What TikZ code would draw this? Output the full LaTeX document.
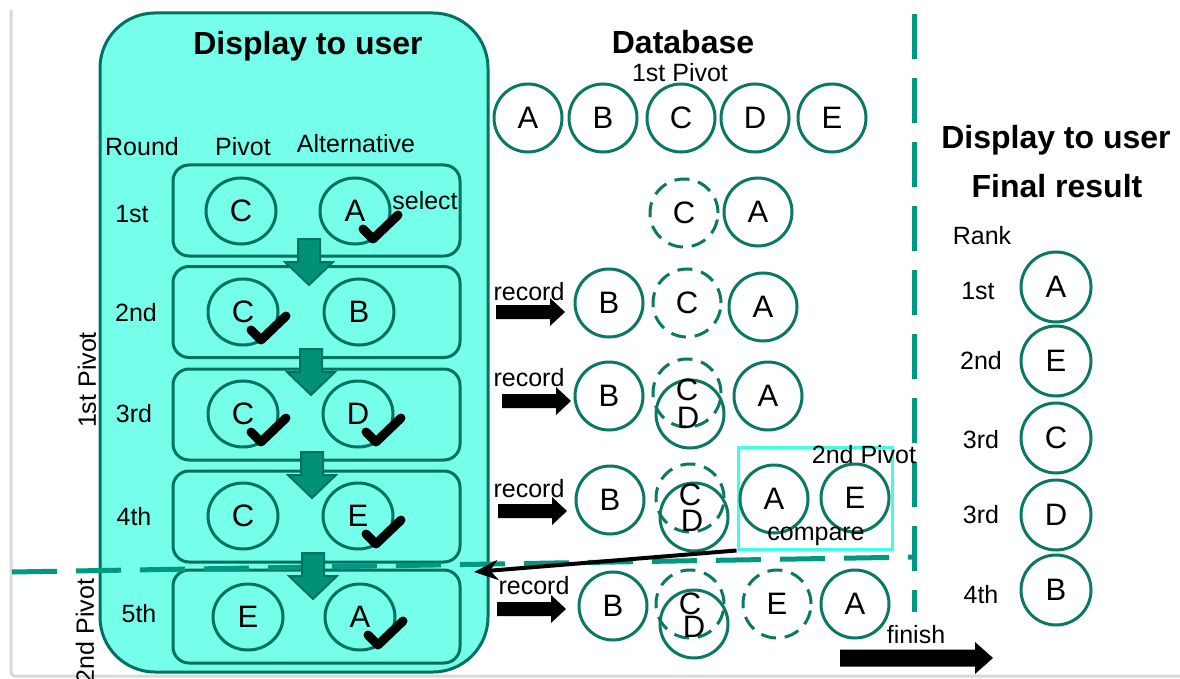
\documentclass[tikz,border=0pt]{standalone}
\usepackage{fontspec}
\setmainfont{Liberation Sans}
\usetikzlibrary{shapes.geometric,arrows.meta}

\definecolor{panelfill}{RGB}{117,255,234}
\definecolor{tealedge}{RGB}{0,112,96}
\definecolor{ringcol}{RGB}{10,120,100}
\definecolor{dashcol}{RGB}{0,152,128}
\definecolor{arrowfill}{RGB}{0,145,120}
\definecolor{boxcyan}{RGB}{64,255,224}
\definecolor{framegrey}{RGB}{217,217,217}

\newcommand{\fsreg}{\fontsize{25}{29}\selectfont}
\newcommand{\fsbig}{\fontsize{31}{35}\selectfont}
\newcommand{\fshead}{\fontsize{32}{37}\selectfont\bfseries}

\tikzset{
  item/.style={circle, draw=ringcol, line width=3pt, minimum size=68pt, inner sep=0pt, font=\fsbig},
  ghost/.style={item, dash pattern=on 15pt off 9pt},
  pitem/.style={ellipse, draw=tealedge, line width=3pt, minimum width=70pt, minimum height=66pt, inner sep=0pt, font=\fsbig},
  rowbox/.style={draw=tealedge, line width=3pt, rounded corners=16pt, minimum width=287pt, minimum height=91pt},
  txt/.style={font=\fsreg, inner sep=0pt},
  heading/.style={font=\fshead, inner sep=0pt},
  tick/.style={line width=9pt, line cap=round, line join=round},
  divider/.style={dashcol, line width=5pt, dash pattern=on 45pt off 19pt},
  downarrow/.pic={
    \filldraw[fill=arrowfill, draw=tealedge, line width=2pt]
      (-11,0) -- (11,0) -- (11,23) -- (24,23) -- (0,46) -- (-24,23) -- (-11,23) -- cycle;
  },
  recordarrow/.pic={
    \fill[black] (0,-7) -- (54,-7) -- (54,-14) -- (69,0) -- (54,14) -- (54,7) -- (0,7) -- cycle;
  },
  finisharrow/.pic={
    \fill[black] (0,-8.5) -- (135,-8.5) -- (135,-16) -- (153,0) -- (135,16) -- (135,8.5) -- (0,8.5) -- cycle;
  },
}

\begin{document}
\begin{tikzpicture}[x=1pt, y=-1pt]
\useasboundingbox (0,0) rectangle (1180,679);

% screen frame
\draw[framegrey, line width=3pt, rounded corners=4pt] (11,10) -- (11,676) -- (1180,676);

% left panel: rounds shown to the user
\node[draw=tealedge, fill=panelfill, line width=3pt, rounded corners=55pt,
      minimum width=388pt, minimum height=659pt] (panel) at (294,342.5) {};
\node[heading] (ptitle) at (308,46) {Display to user};
\node[txt] (hround) at (142,147) {Round};
\node[txt] (hpivot) at (243,147) {Pivot};
\node[txt] (halt)   at (356,144) {Alternative};

\node[rowbox] (r1) at (316.5,210.5) {};
\node[rowbox] (r2) at (316.5,312) {};
\node[rowbox] (r3) at (316.5,414.5) {};
\node[rowbox] (r4) at (316.5,516.5) {};
\node[rowbox, minimum height=93pt] (r5) at (316.5,616.5) {};

\node[txt] (n1) at (132,214) {1st};
\node[txt] (n2) at (136,313) {2nd};
\node[txt] (n3) at (134,414) {3rd};
\node[txt] (n4) at (134,517) {4th};
\node[txt] (n5) at (139,614) {5th};

\node[pitem] (p1) at (241,211) {C};
\node[pitem] (a1) at (355,211) {A};
\node[pitem] (p2) at (243,312) {C};
\node[pitem] (a2) at (359,312) {B};
\node[pitem] (p3) at (243,414) {C};
\node[pitem] (a3) at (358,414) {D};
\node[pitem] (p4) at (243,516) {C};
\node[pitem] (a4) at (358,516) {E};
\node[pitem] (p5) at (248,617) {E};
\node[pitem] (a5) at (360,617) {A};

\node[txt] (sel) at (425,201) {select};

% ticks for the chosen items
\foreach \c in {a1,p2,p3,a3,a4,a5}
  \draw[tick] (\c.center) ++(8,18) -- ++(10,10) -- ++(25,-24);

% vertical labels
\node[txt, rotate=90] (piv1) at (87,380) {1st Pivot};
\node[txt, rotate=90] (piv2) at (85,631) {2nd Pivot};

% dividers
\coordinate (hl) at (12,572);
\coordinate (hr) at (916,557);
\coordinate (vt) at (914,14);
\coordinate (vb) at (914,612);
\draw[divider] (hl) -- (hr);
\draw[divider] (vt) -- (vb);

% flow between rounds
\pic at (309,239) {downarrow};
\pic at (311,349) {downarrow};
\pic at (312,452) {downarrow};
\pic at (313,553) {downarrow};

% database
\node[heading] (dbt) at (683,42) {Database};
\node[txt] (dbp) at (680,73) {1st Pivot};
\node[item] (dA) at (528,118) {A};
\node[item] (dB) at (603,118) {B};
\node[item] (dC) at (681,118) {C};
\node[item] (dD) at (755,118) {D};
\node[item] (dE) at (832,118) {E};

% round 1
\node[ghost] (c1) at (684,213) {C};
\node[item]  (m1) at (758,212) {A};

% round 2
\node[txt] (rec2) at (529,292) {record};
\pic at (496,312) {recordarrow};
\node[item]  (b2) at (609,303) {B};
\node[ghost] (c2) at (687,303) {C};
\node[item]  (m2) at (763,307) {A};

% round 3
\node[txt] (rec3) at (529,378) {record};
\pic at (502,401) {recordarrow};
\node[item]  (b3) at (609,396) {B};
\node[ghost] (c3) at (687,393) {};
\node[item]  (d3) at (690,414) {};
\node[font=\fsbig, inner sep=0pt] (c3t) at (687,390) {C};
\node[font=\fsbig, inner sep=0pt] (d3t) at (688,418) {D};
\node[item]  (m3) at (768,396) {A};

% round 4
\node[txt] (rec4) at (529,489) {record};
\pic at (498,511) {recordarrow};
\node[item]  (b4) at (610,500) {B};
\node[ghost] (c4) at (690,498) {};
\node[item]  (d4) at (694,517) {};
\node[font=\fsbig, inner sep=0pt] (c4t) at (690,495) {C};
\node[font=\fsbig, inner sep=0pt] (d4t) at (692,521) {D};
\node[draw=boxcyan, line width=3pt, minimum width=154pt, minimum height=102pt] (cmp) at (815,498) {};
\node[item] (m4) at (774,499) {A};
\node[item] (e4) at (855,498) {E};
\node[txt] (piv2db) at (864,455) {2nd Pivot};
\node[txt] (cmpt) at (816,536) {compare};
\coordinate (back) at (474,572);
\draw[line width=4pt, -{Stealth[length=24pt, width=20pt]}] (cmp.south west) -- (back);

% round 5
\node[txt] (rec5) at (534,586) {record};
\pic at (497,609) {recordarrow};
\node[item]  (b5) at (613,606) {B};
\node[ghost] (c5) at (690,604) {};
\node[item]  (d5) at (694,624) {};
\node[font=\fsbig, inner sep=0pt] (c5t) at (690,604) {C};
\node[font=\fsbig, inner sep=0pt] (d5t) at (694,627) {D};
\node[ghost] (e5) at (777,604) {E};
\node[item]  (m5) at (855,604) {A};

\node[txt] (fin) at (916,635) {finish};
\pic at (840,658) {finisharrow};

% final result
\node[heading] (ft1) at (1056,140) {Display to user};
\node[heading] (ft2) at (1057,186) {Final result};
\node[txt] (rank) at (982,236) {Rank};
\node[txt] (k1) at (978,291) {1st};
\node[txt] (k2) at (981,361) {2nd};
\node[txt] (k3) at (981,440) {3rd};
\node[txt] (k4) at (981,515) {3rd};
\node[txt] (k5) at (981,595) {4th};
\node[item, minimum size=70pt] (f1) at (1056,287) {A};
\node[item, minimum size=70pt] (f2) at (1056,361) {E};
\node[item, minimum size=70pt] (f3) at (1056,438) {C};
\node[item, minimum size=70pt] (f4) at (1056,515) {D};
\node[item, minimum size=70pt] (f5) at (1056,590) {B};
\end{tikzpicture}
\end{document}
